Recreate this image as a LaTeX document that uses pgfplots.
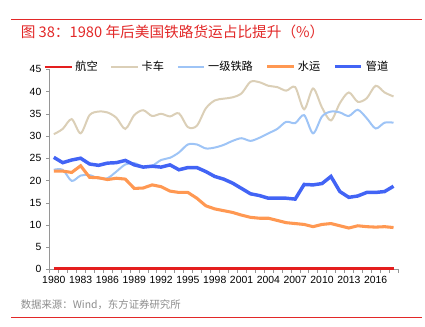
\documentclass[border=0pt]{standalone}
\usepackage{fontspec}
\setmainfont{Liberation Sans}
\newfontfamily\cjk{Noto Sans CJK SC}
\usepackage{pgfplots}
\pgfplotsset{compat=1.18}
\definecolor{cAir}{RGB}{228,30,30}
\definecolor{cTruck}{RGB}{219,207,183}
\definecolor{cRail}{RGB}{158,196,246}
\definecolor{cWater}{RGB}{255,152,82}
\definecolor{cPipe}{RGB}{66,100,245}
\definecolor{titlered}{RGB}{226,40,40}
\definecolor{axgray}{RGB}{150,150,150}
\definecolor{srcgray}{RGB}{140,140,140}
\begin{document}
\begin{tikzpicture}[x=0.75pt,y=0.75pt]
\path[use as bounding box] (0,0) rectangle (425,326);
\draw[titlered, line width=0.6pt] (11,307) -- (422,307);
\node[anchor=west, inner sep=0pt, text=titlered, font=\cjk\fontsize{11}{12}\selectfont] at (20.5,294) {图 38：1980 年后美国铁路货运占比提升（\%）};
\node[anchor=west, inner sep=0pt, text=srcgray, font=\cjk\fontsize{7.8}{9}\selectfont] at (20.5,21) {数据来源：Wind，东方证券研究所};
\draw[titlered, line width=0.6pt] (11,9) -- (422,9);
\begin{axis}[
  at={(37pt,42.5pt)}, anchor=south west,
  scale only axis, width=261.5pt, height=150pt,
  xmin=1979.5, xmax=2018.5, ymin=0, ymax=45,
  axis lines=left, axis line style={-, axgray},
  xtick={1980,1983,...,2016},
  minor xtick={1979.5,1980.5,...,2018.5},
  major x tick style={draw=none},
  minor x tick style={axgray},
  minor tick length=2.5pt,
  ytick={0,5,...,45},
  y tick style={axgray},
  major tick length=2.5pt,
  tick align=outside,
  /pgf/number format/1000 sep={},
  /pgf/number format/assume math mode=true,
  tick label style={font=\fontsize{7.8}{9}\selectfont},
  xticklabel style={yshift=1pt},
  legend columns=5,
  legend style={at={(0.482,1.013)}, anchor=center, draw=none, fill=none,
    font=\cjk\fontsize{8.4}{10}\selectfont,
    /tikz/every even column/.append style={column sep=7.5pt},
    inner sep=0pt},
  legend image code/.code={\draw[#1] (0pt,0pt) -- (20pt,0pt);},
]
\addplot[cAir, line width=1.6pt] coordinates {
(1980,0.2)(1981,0.2)(1982,0.2)(1983,0.2)(1984,0.2)(1985,0.2)(1986,0.2)(1987,0.2)(1988,0.2)(1989,0.2)
(1990,0.2)(1991,0.2)(1992,0.2)(1993,0.2)(1994,0.2)(1995,0.2)(1996,0.2)(1997,0.2)(1998,0.2)(1999,0.2)
(2000,0.2)(2001,0.2)(2002,0.2)(2003,0.2)(2004,0.2)(2005,0.2)(2006,0.2)(2007,0.2)(2008,0.2)(2009,0.2)
(2010,0.2)(2011,0.2)(2012,0.2)(2013,0.2)(2014,0.2)(2015,0.2)(2016,0.2)(2017,0.2)(2018,0.2)};
\addlegendentry{航空}
\addplot[cTruck, line width=1.5pt, smooth] coordinates {
(1980,30.4)(1981,31.6)(1982,33.8)(1983,30.6)(1984,34.7)(1985,35.5)(1986,35.3)(1987,34.1)(1988,31.6)(1989,34.7)
(1990,35.8)(1991,34.5)(1992,35.0)(1993,34.4)(1994,35.1)(1995,32.0)(1996,32.3)(1997,36.2)(1998,38.0)(1999,38.4)
(2000,38.7)(2001,39.6)(2002,42.2)(2003,42.1)(2004,41.3)(2005,41.0)(2006,40.2)(2007,41.0)(2008,36.0)(2009,40.7)
(2010,36.4)(2011,33.5)(2012,37.4)(2013,39.8)(2014,37.7)(2015,38.5)(2016,41.3)(2017,39.8)(2018,38.9)};
\addlegendentry{卡车}
\addplot[cRail, line width=1.5pt, smooth] coordinates {
(1980,22.4)(1981,22.4)(1982,19.9)(1983,21.1)(1984,21.2)(1985,20.5)(1986,20.5)(1987,22.0)(1988,23.6)(1989,23.9)
(1990,23.1)(1991,23.3)(1992,24.6)(1993,25.1)(1994,26.3)(1995,28.1)(1996,28.1)(1997,27.2)(1998,27.4)(1999,28.0)
(2000,28.9)(2001,29.5)(2002,28.9)(2003,29.6)(2004,30.6)(2005,31.6)(2006,33.2)(2007,32.9)(2008,34.7)(2009,30.6)
(2010,34.4)(2011,35.5)(2012,35.3)(2013,34.5)(2014,35.9)(2015,34.0)(2016,31.7)(2017,33.0)(2018,33.0)};
\addlegendentry{一级铁路}
\addplot[cWater, line width=2.3pt] coordinates {
(1980,22.1)(1981,22.1)(1982,21.8)(1983,23.3)(1984,20.7)(1985,20.6)(1986,20.2)(1987,20.5)(1988,20.3)(1989,18.2)
(1990,18.3)(1991,19.0)(1992,18.6)(1993,17.6)(1994,17.3)(1995,17.3)(1996,16.0)(1997,14.3)(1998,13.6)(1999,13.2)
(2000,12.8)(2001,12.2)(2002,11.7)(2003,11.5)(2004,11.5)(2005,11.0)(2006,10.5)(2007,10.3)(2008,10.1)(2009,9.6)
(2010,10.1)(2011,10.3)(2012,9.8)(2013,9.3)(2014,9.8)(2015,9.6)(2016,9.5)(2017,9.6)(2018,9.4)};
\addlegendentry{水运}
\addplot[cPipe, line width=2.6pt] coordinates {
(1980,25.2)(1981,24.0)(1982,24.6)(1983,25.0)(1984,23.7)(1985,23.4)(1986,23.9)(1987,24.0)(1988,24.5)(1989,23.5)
(1990,23.0)(1991,23.2)(1992,23.0)(1993,23.5)(1994,22.4)(1995,22.9)(1996,22.9)(1997,22.0)(1998,20.9)(1999,20.3)
(2000,19.4)(2001,18.2)(2002,17.0)(2003,16.6)(2004,16.0)(2005,16.0)(2006,16.0)(2007,15.8)(2008,19.1)(2009,19.0)
(2010,19.3)(2011,20.9)(2012,17.5)(2013,16.2)(2014,16.5)(2015,17.3)(2016,17.3)(2017,17.5)(2018,18.7)};
\addlegendentry{管道}
\end{axis}
\end{tikzpicture}
\end{document}
